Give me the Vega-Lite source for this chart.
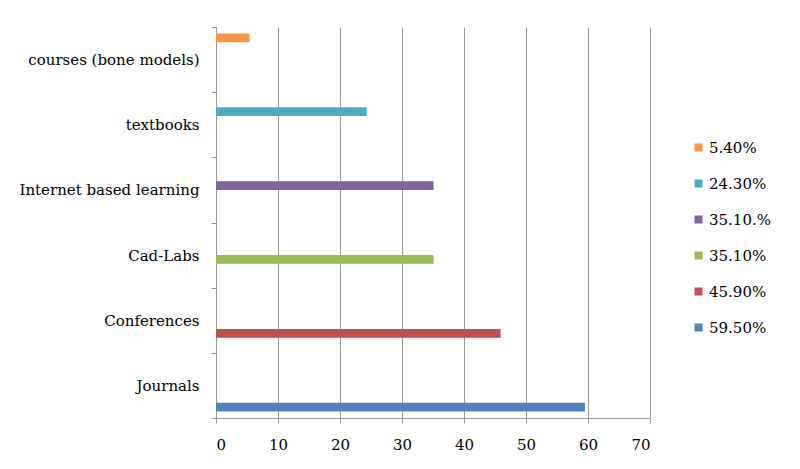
{
  "$schema": "https://vega.github.io/schema/vega-lite/v6.json",
  "autosize": "none",
  "width": 434,
  "height": 391,
  "padding": {"left": 216, "top": 27, "right": 150, "bottom": 51},
  "background": "white",
  "config": {
    "view": {"stroke": null},
    "font": "DejaVu Serif"
  },
  "data": {
    "values": [
      {"category": "Journals", "series": "59.50%", "value": 59.5},
      {"category": "Conferences", "series": "45.90%", "value": 45.9},
      {"category": "Cad-Labs", "series": "35.10%", "value": 35.1},
      {"category": "Internet based learning", "series": "35.10.%", "value": 35.1},
      {"category": "textbooks", "series": "24.30%", "value": 24.3},
      {"category": "courses (bone models)", "series": "5.40%", "value": 5.4}
    ]
  },
  "mark": {"type": "bar"},
  "encoding": {
    "y": {
      "field": "category",
      "type": "nominal",
      "sort": ["courses (bone models)", "textbooks", "Internet based learning", "Cad-Labs", "Conferences", "Journals"],
      "scale": {"paddingInner": 0, "paddingOuter": 0},
      "axis": {
        "title": null,
        "grid": false,
        "domainColor": "#999999",
        "tickColor": "#999999",
        "tickSize": 5,
        "tickBand": "extent",
        "labelPadding": 12,
        "labelFont": "DejaVu Serif",
        "labelFontSize": 15,
        "labelColor": "#000000",
        "labelLimit": 300
      }
    },
    "yOffset": {
      "field": "series",
      "type": "nominal",
      "scale": {
        "domain": ["5.40%", "24.30%", "35.10.%", "35.10%", "45.90%", "59.50%"],
        "paddingInner": 0,
        "paddingOuter": 0.75
      }
    },
    "x": {
      "field": "value",
      "type": "quantitative",
      "scale": {"domain": [0, 70], "nice": false},
      "axis": {
        "title": null,
        "values": [0, 10, 20, 30, 40, 50, 60, 70],
        "grid": true,
        "gridColor": "#999999",
        "domainColor": "#999999",
        "tickColor": "#999999",
        "tickSize": 5,
        "labelPadding": 14,
        "labelFont": "DejaVu Serif",
        "labelFontSize": 15,
        "labelColor": "#000000"
      }
    },
    "color": {
      "field": "series",
      "type": "nominal",
      "scale": {
        "domain": ["5.40%", "24.30%", "35.10.%", "35.10%", "45.90%", "59.50%"],
        "range": ["#F79646", "#4BACC6", "#8064A2", "#9BBB59", "#C0504D", "#4F81BD"]
      },
      "legend": {
        "title": null,
        "orient": "none",
        "legendX": 475,
        "legendY": 113,
        "symbolType": "square",
        "symbolSize": 64,
        "symbolStrokeWidth": 0,
        "labelFont": "DejaVu Serif",
        "labelFontSize": 15,
        "labelColor": "#000000",
        "labelOffset": 3,
        "rowPadding": 20,
        "padding": 0
      }
    }
  }
}
